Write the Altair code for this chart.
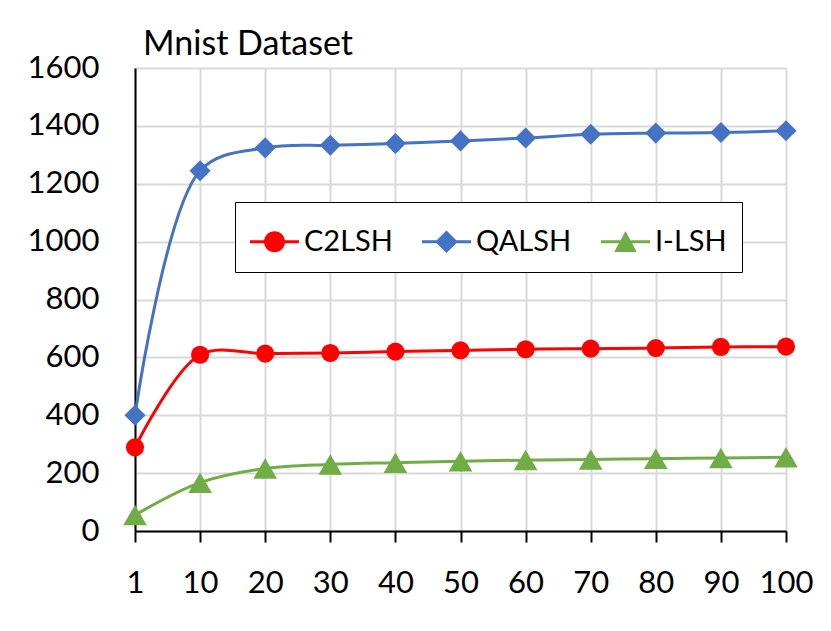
import altair as alt
import pandas as pd

x_labels = ["1", "10", "20", "30", "40", "50", "60", "70", "80", "90", "100"]
c2lsh = [289, 609, 613, 615, 620, 624, 628, 630, 632, 636, 637]
qalsh = [400, 1245, 1324, 1333, 1339, 1348, 1358, 1371, 1375, 1377, 1383]
ilsh = [55, 167, 216, 230, 236, 241, 245, 247, 250, 252, 255]
series_names = ["C2LSH", "QALSH", "I-LSH"]
series_colors = ["#ff0000", "#4472c4", "#70ad47"]
y_ticks = [0, 200, 400, 600, 800, 1000, 1200, 1400, 1600]

rows = []
for name, vals in zip(series_names, [c2lsh, qalsh, ilsh]):
    for i, (k, v) in enumerate(zip(x_labels, vals)):
        rows.append({"k": k, "idx": i, "value": v, "series": name})
df = pd.DataFrame(rows)

FONT = "Lato"

x_enc = alt.X(
    "k:O",
    sort=x_labels,
    scale=alt.Scale(type="point", padding=0),
    axis=alt.Axis(
        title=None, labelAngle=0, labelFont=FONT, labelFontSize=31,
        labelColor="black", domainColor="black", domainWidth=2,
        tickColor="black", tickWidth=2, tickSize=11, labelPadding=26,
        grid=True, gridColor="#d9d9d9", gridWidth=2,
    ),
)
y_enc = alt.Y(
    "value:Q",
    scale=alt.Scale(domain=[0, 1600]),
    axis=alt.Axis(
        title=None, values=y_ticks, format="d", labelFont=FONT, labelFontSize=31,
        labelColor="black", domainColor="black", domainWidth=2,
        ticks=False, labelPadding=36,
        grid=True, gridColor="#d9d9d9", gridWidth=2,
    ),
)
color_scale = alt.Scale(domain=series_names, range=series_colors)

lines = alt.Chart(df).mark_line(interpolate="catmull-rom", strokeWidth=3).encode(
    x=x_enc,
    y=y_enc,
    color=alt.Color("series:N", scale=color_scale, legend=None),
    order=alt.Order("idx:Q"),
)

points = alt.Chart(df).mark_point(filled=True, opacity=1, strokeWidth=0).encode(
    x=x_enc,
    y=y_enc,
    color=alt.Color("series:N", scale=color_scale, legend=None),
    shape=alt.Shape("series:N", scale=alt.Scale(domain=series_names,
                    range=["circle", "diamond", "triangle-up"]), legend=None),
    size=alt.Size("series:N", scale=alt.Scale(domain=series_names,
                  range=[330, 560, 520]), legend=None),
)

legend_paths = [
    "M-1,-0.065H1V0.065H-1Z M0.43,0A0.43,0.43 0 1,1 -0.43,0A0.43,0.43 0 1,1 0.43,0Z",
    "M-1,-0.065H1V0.065H-1Z M0,-0.46L0.46,0L0,0.46L-0.46,0Z",
    "M-1,-0.065H1V0.065H-1Z M0,-0.44L0.46,0.42L-0.46,0.42Z",
]
leg = alt.Legend(
    title=None, orient="none", legendX=100, legendY=134, direction="horizontal",
    labelFont=FONT, labelFontSize=29, labelColor="black", labelOffset=5,
    columnPadding=29, padding=15, strokeColor="black", fillColor="white",
    symbolSize=2401, symbolStrokeWidth=0, labelLimit=300,
)
legend_layer = alt.Chart(df).transform_filter("false").mark_point(
    filled=True, opacity=1, size=2401, strokeWidth=0
).encode(
    x=x_enc,
    y=y_enc,
    color=alt.Color("series:N", scale=color_scale, legend=leg),
    shape=alt.Shape("series:N", scale=alt.Scale(domain=series_names, range=legend_paths),
                    legend=leg),
)

chart = alt.layer(lines, points, legend_layer).resolve_scale(
    color="independent", shape="independent", size="independent"
).resolve_legend(color="independent", shape="independent").properties(
    width=651,
    height=463,
    title=alt.TitleParams(
        text="Mnist Dataset", anchor="start", frame="group", font=FONT, fontSize=34,
        fontWeight="normal", color="black", offset=-10, dx=8,
    ),
    padding={"left": 19, "top": 20, "right": 10, "bottom": 10},
).configure_view(stroke="black", strokeWidth=2).configure(background="white")

chart.save("out.html", embed_options={"renderer": "svg", "actions": False})
